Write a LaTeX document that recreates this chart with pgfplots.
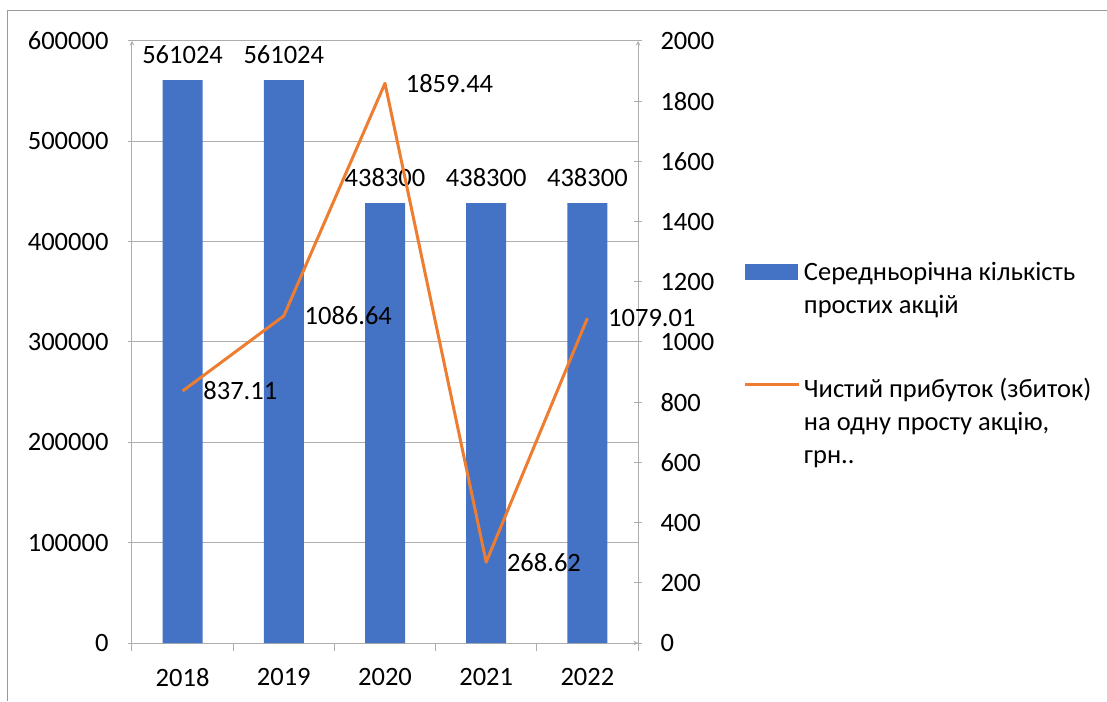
\documentclass[border=0pt]{standalone}
\usepackage{fontspec}
\setmainfont{Carlito}
\usepackage{pgfplots}
\usepackage{pgfplotstable}
\pgfplotsset{compat=1.18}

\definecolor{barblue}{HTML}{4472C4}
\definecolor{lineorange}{HTML}{ED7D31}
\definecolor{axisgray}{HTML}{ADADAD}
\definecolor{framegray}{HTML}{9A9A9A}

\newcommand\chartfont{\fontsize{26.5}{33}\selectfont}

% year index, average number of ordinary shares, net profit per share
\pgfplotstableread{
x shares eps
0 561024 837.11
1 561024 1086.64
2 438300 1859.44
3 438300 268.62
4 438300 1079.01
}\data

\pgfplotsset{common/.style={
  scale only axis, width=506pt, height=602pt,
  at={(0,0)}, anchor=south west,
  xmin=-0.5, xmax=4.5,
  ticklabel style={font=\chartfont},
  /pgf/number format/assume math mode=true,
  /pgf/number format/fixed,
  /pgf/number format/1000 sep={},
  scaled y ticks=false,
  tick align=outside,
  major tick length=8pt,
  tick style={axisgray, line width=1pt},
  axis line style={axisgray, line width=1pt, -},
}}

\begin{document}
\begin{tikzpicture}
\begin{axis}[common,
  axis x line=bottom, axis y line=left,
  ymin=0, ymax=600000, ytick={0,100000,...,600000},
  yticklabel style={xshift=-16pt},
  ymajorgrids, grid style={axisgray, line width=1pt},
  xtick={-0.5,0.5,1.5,2.5,3.5,4.5}, x tick label as interval,
  xticklabels={2018,2019,2020,2021,2022},
  xticklabel style={yshift=-14pt},
  ybar, bar width=40pt,
  nodes near coords={\pgfmathprintnumber[fixed,precision=0,1000 sep={}]{\pgfplotspointmeta}},
  nodes near coords style={font=\chartfont, text=black, yshift=13pt},
]
\addplot[fill=barblue, draw=none] table[x=x, y=shares] {\data};
\end{axis}

\begin{axis}[common,
  axis x line=none, axis y line=right,
  ymin=0, ymax=2000, ytick={0,200,...,2000},
  yticklabel style={xshift=15pt},
  nodes near coords={\pgfmathprintnumber[fixed,fixed zerofill,precision=2]{\pgfplotspointmeta}},
  nodes near coords style={font=\chartfont, anchor=west, xshift=16pt, text=black},
  legend style={at={(axis description cs:1.209,0.632)}, anchor=north west,
    draw=none, fill=none, inner sep=0pt, row sep=63pt, column sep=3pt,
    nodes={align=left, font=\chartfont, inner sep=0pt},
    cells={anchor=base west}},
]
\addlegendimage{legend image code/.code={\fill[barblue] (0pt,35pt) rectangle (52pt,50pt);}}
\addlegendentry{Середньорічна кількість\\простих акцій}
\addplot[lineorange, line width=3pt, line join=round, mark=none,
  legend image code/.code={\draw[line width=3pt] (0pt,79pt) -- (54pt,79pt);}]
  table[x=x, y=eps] {\data};
\addlegendentry{Чистий прибуток (збиток)\\на одну просту акцію,\\грн..}
\end{axis}

\begin{scope}[x=1pt, y=1pt]
\draw[framegray, line width=1pt] (-124,-58) -- (-124,632) -- (975,632);
\pgfresetboundingbox
\path[use as bounding box] (-132,-58) rectangle (975,643);
\end{scope}
\end{tikzpicture}
\end{document}
